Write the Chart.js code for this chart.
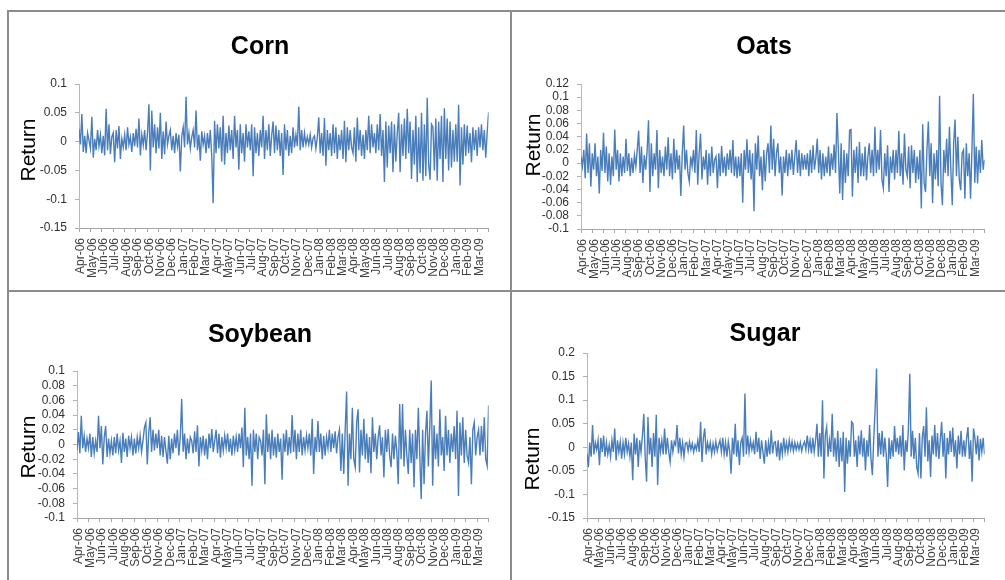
<!DOCTYPE html>
<html>
<head>
<meta charset="utf-8">
<script src="https://cdn.jsdelivr.net/npm/chart.js@4.4.1/dist/chart.umd.min.js"></script>
<style>
  body { margin: 0; width: 1005px; height: 580px; overflow: hidden; background: #fff; position: relative; font-family: "Liberation Sans", Arial, sans-serif; }
  .line { position: absolute; background: #8c8c8c; }
  canvas { position: absolute; }
  .title { position: absolute; width: 240px; text-align: center; font-weight: bold; font-size: 25px; line-height: 25px; color: #000; }
  .ytitle { position: absolute; width: 100px; height: 24px; line-height: 24px; text-align: center; font-size: 21px; color: #000; transform: rotate(-90deg); }
</style>
</head>
<body>
<div class="line" style="left:7px;top:10px;width:998px;height:2px"></div>
<div class="line" style="left:7px;top:290px;width:998px;height:2px"></div>
<div class="line" style="left:7px;top:10px;width:2px;height:570px"></div>
<div class="line" style="left:510px;top:10px;width:2px;height:570px"></div>

<canvas id="corn" width="500" height="278" style="left:9px;top:12px"></canvas>
<canvas id="oats" width="493" height="278" style="left:512px;top:12px"></canvas>
<canvas id="soybean" width="500" height="288" style="left:9px;top:292px"></canvas>
<canvas id="sugar" width="493" height="288" style="left:512px;top:292px"></canvas>

<div class="title" style="left:140px;top:33px">Corn</div>
<div class="title" style="left:644px;top:33px">Oats</div>
<div class="title" style="left:140px;top:321px">Soybean</div>
<div class="title" style="left:645px;top:320px">Sugar</div>

<div class="ytitle" style="left:-22px;top:138px">Return</div>
<div class="ytitle" style="left:483px;top:133px">Return</div>
<div class="ytitle" style="left:-22px;top:435px">Return</div>
<div class="ytitle" style="left:482px;top:447px">Return</div>

<script>
// month tick labels along the x axis
const months = ['Apr-06','May-06','Jun-06','Jul-06','Aug-06','Sep-06','Oct-06','Nov-06','Dec-06','Jan-07','Feb-07','Mar-07',
  'Apr-07','May-07','Jun-07','Jul-07','Aug-07','Sep-07','Oct-07','Nov-07','Dec-07','Jan-08','Feb-08','Mar-08',
  'Apr-08','May-08','Jun-08','Jul-08','Aug-08','Sep-08','Oct-08','Nov-08','Dec-08','Jan-09','Feb-09','Mar-09'];

// returns (8 samples a month)
const cornReturns = [
  .022,-.005,.048,-.018,.01,-.02,.015,.002, -.012,.043,-.028,.005,-.015,.02,-.008,.012,
  -.02,.01,-.024,.057,-.015,.03,-.022,.008, .015,-.036,.02,-.012,.027,-.03,.005,-.01,
  .012,-.015,.025,-.005,.008,-.018,.015,-.008, .022,-.01,.04,-.024,.012,-.006,.02,-.015,
  .015,.065,-.05,.054,-.01,.03,-.02,.025, -.012,.05,-.03,.018,-.022,.035,-.005,.01,
  .02,-.015,.01,-.02,.015,-.008,.012,-.052, .01,.025,-.01,.078,-.005,.015,-.012,.008,
  .02,-.01,.054,-.015,.012,-.033,.018,-.005, .01,-.02,.015,-.012,.02,-.025,-.107,.036,
  -.02,.03,-.012,.025,-.035,.045,-.04,.015, -.02,.028,-.015,.02,-.03,.045,-.01,.02,
  -.049,.03,-.02,.015,-.035,.03,-.01,.018, -.015,.03,-.06,.025,-.02,.015,-.025,.02,
  -.01,.045,-.03,.02,-.015,.03,-.025,.01, .035,-.02,.028,-.015,.02,-.025,.015,-.058,
  .03,-.015,.02,-.025,.01,-.02,.025,-.01, .012,-.008,.061,-.015,.02,-.01,.015,-.005,
  .008,-.005,.012,-.01,.006,.01,-.012,.008, .042,-.02,.015,-.025,.041,-.042,.02,-.015,
  .015,-.025,.03,-.02,.025,-.03,.012,-.015, .02,-.03,.036,-.036,.025,-.015,.02,-.01,
  -.02,.025,-.035,.042,-.015,.02,-.025,.012, -.03,.02,-.015,.045,-.02,.03,-.01,.015,
  -.02,.03,-.015,.048,-.025,.02,-.07,.035, -.045,.028,-.02,.035,-.053,.03,-.035,.015,
  .05,-.053,.03,-.025,.04,-.03,.057,-.02, .035,-.065,.02,-.04,.045,-.07,.025,-.055,
  .05,-.068,.03,-.06,.076,-.04,-.066,.03, .025,-.05,.04,-.068,.035,-.03,.045,-.07,
  .058,-.03,.04,-.05,.035,-.045,.02,-.035, .03,-.035,.064,-.076,.025,-.04,.03,-.025,
  .028,-.02,.015,-.036,.025,-.015,.02,-.025, .025,-.01,.03,-.015,.02,-.028,.015,.051
];

const oatsReturns = [
  .01,-.005,.02,-.023,.045,-.015,.03,-.036, .015,-.01,.03,-.02,.01,-.046,.02,-.012,
  .046,-.015,.025,-.028,.015,-.033,.01,-.02, .051,-.01,.02,-.028,.015,-.02,.01,-.015,
  .037,-.012,.015,-.02,.008,-.015,.012,-.005, .02,.049,-.015,.025,-.03,.012,-.01,.018,
  .065,-.044,.03,-.02,.015,-.01,.05,-.038, .02,-.015,.01,-.02,.025,-.01,.039,-.02,
  .015,-.025,.037,-.015,.02,-.01,.012,-.05, .015,.057,-.01,.02,-.015,-.028,.01,-.005,
  .02,-.015,.05,-.033,.015,.045,-.025,.01, -.01,.02,-.033,.015,-.02,.025,-.015,.005,
  .01,-.038,.015,-.02,.026,-.015,.01,-.02, .015,-.01,.02,-.015,.035,-.02,.01,-.023,
  .01,-.02,.015,-.06,.02,-.01,.036,-.015, .02,-.025,.015,-.073,.03,-.01,.042,-.02,
  .01,-.041,.02,-.028,.015,.03,-.015,.057, -.01,.037,-.02,.015,.03,-.015,.01,-.049,
  .01,-.015,.02,-.02,.015,-.01,.02,-.018, .01,.035,-.015,.02,-.02,.015,-.01,.012,
  -.01,.015,-.02,.02,-.015,.027,-.01,.008, .037,-.015,.02,-.025,.015,-.02,.01,-.015,
  .025,-.02,.015,-.01,.028,-.015,.076,.02, -.046,.03,-.056,.02,-.03,.015,-.02,.05,
  .051,-.051,.02,-.015,.025,-.03,.032,-.02, .015,-.02,.025,-.026,.01,.03,-.015,.02,
  -.02,.055,-.015,.02,-.01,.05,-.025,-.038, .015,-.02,.027,-.044,.01,-.015,.02,-.025,
  .02,-.015,.049,-.02,.015,-.033,.045,-.01, -.02,.025,-.038,.027,-.015,.02,-.03,.01,
  -.025,.02,-.069,.059,-.03,-.044,.02,.063, -.02,.03,-.061,.015,-.025,.02,-.035,.102,
  -.03,-.064,.02,-.015,.037,-.02,.055,-.01, -.064,.03,.066,-.02,.04,-.025,-.041,.015,
  .02,-.054,.03,-.02,.015,-.054,.02,.105, -.03,.025,-.031,.02,-.015,.035,-.01,.005
];

const soybeanReturns = [
  -.008,.017,-.012,.039,-.005,.012,-.01,.008, -.005,.015,-.017,.01,-.012,.005,-.01,.039,
  -.005,.025,-.027,.01,.025,-.017,.008,-.012, .005,-.015,.01,-.012,.015,-.008,.005,-.025,
  .016,-.01,.008,-.017,.012,-.005,.01,-.015, .008,-.012,.01,-.005,.012,-.01,.005,.023,
  .03,-.027,.015,.037,-.01,.02,-.008,.015, -.005,.02,-.015,.012,-.017,.01,-.008,-.026,
  .012,-.02,.008,-.012,.015,-.005,.02,-.015, .01,.062,-.01,.015,-.02,.008,-.012,.01,
  .005,-.012,.018,-.01,.026,-.03,.01,-.008, .012,-.015,.008,-.02,.015,-.005,.021,-.01,
  .005,.02,-.012,.015,-.018,.01,-.008,.012, -.005,.015,-.01,.008,-.015,.012,-.008,.01,
  -.01,.015,-.005,.023,-.031,.05,-.015,.01, -.02,.015,-.056,.02,-.01,.015,-.02,.01,
  .005,-.015,.02,-.054,.041,-.01,.015,-.02, .02,-.015,.01,-.018,.015,-.01,.008,-.048,
  .015,-.01,.02,-.015,.01,-.012,.04,-.01, .02,-.02,.015,-.01,.02,-.015,.01,-.008,
  .012,-.005,.015,-.015,.035,-.04,.01,-.01, .032,-.01,.015,-.02,.012,-.015,.01,-.005,
  .02,-.01,.015,-.005,.018,-.012,.01,.02, -.036,.015,-.04,.02,.072,-.056,.015,-.02,
  .05,-.02,-.031,.03,.048,-.038,.02,-.015, .035,-.02,.015,-.025,.01,-.039,.037,-.01,
  .015,-.02,.01,.026,-.015,.01,-.045,.02, -.01,.021,-.015,-.031,.015,-.02,.012,-.01,
  -.054,.055,-.02,.055,-.03,.02,-.015,-.04, .02,-.025,.015,-.058,.02,-.02,.05,-.015,
  -.074,.02,-.054,.015,.046,-.03,.025,.087, -.056,.026,-.02,.015,-.03,.048,-.015,.01,
  -.036,.039,-.015,.02,-.025,.015,-.01,.025, -.02,.046,-.07,.03,-.015,.037,-.025,.02,
  -.015,-.025,.01,-.054,.02,.03,-.015,.01, .02,-.015,.025,-.01,.037,-.02,-.029,.053
];

const sugarReturns = [
  -.013,-.042,.01,-.02,.047,-.015,.01,-.005, .015,-.038,.02,-.01,.025,-.02,.01,-.015,
  .005,-.02,.015,-.01,.04,-.028,.015,-.01, .012,-.024,.01,-.015,.02,-.01,.008,-.02,
  .01,-.07,.029,-.015,.02,-.042,.015,-.01, .025,.071,-.02,-.073,.064,-.015,.02,-.042,
  .03,-.02,.069,-.08,.02,-.01,.015,-.015, .04,-.015,.02,-.01,-.031,.015,-.01,.012,
  .005,.047,-.013,.02,-.015,.01,-.02,.008, .01,-.008,.012,-.005,.008,-.01,.005,-.005,
  .015,-.01,.054,-.031,.02,.04,-.015,.01, -.005,.01,-.015,.008,-.01,.012,-.008,.005,
  .015,-.01,.02,-.015,.01,-.02,.012,-.008, -.056,.02,-.015,.05,-.02,.015,-.038,.01,
  .02,-.02,.114,-.015,.025,-.01,.015,-.005, .01,-.015,.033,-.01,.02,-.025,.015,-.01,
  -.035,.015,-.02,.01,-.015,.036,-.013,.01, .012,-.02,.015,-.028,.01,-.015,.02,-.01,
  .01,-.01,.015,-.005,.012,-.008,.01,-.005, .008,-.005,.01,-.008,.005,.012,-.005,.025,
  -.005,.015,-.013,.02,-.01,.015,.05,-.02, .03,-.02,.1,-.066,.025,.043,-.02,.015,
  -.01,.071,-.02,.02,-.03,.035,-.042,.02, -.03,.033,-.095,.02,-.035,.015,-.02,.054,
  .05,-.02,.015,-.042,.025,-.015,.036,-.02, .02,-.049,.015,-.02,.047,-.025,-.059,.02,
  .082,.167,-.02,.03,-.015,.035,-.02,.02, -.015,-.084,.02,-.025,.015,-.02,.045,-.01,
  .02,-.015,.025,-.02,.047,-.049,.015,-.01, .04,.156,-.02,.035,-.025,.02,-.042,-.056,
  .03,-.066,.02,.045,-.02,.085,-.03,.015, -.063,.025,-.015,.047,-.02,.03,-.025,.015,
  .054,-.02,.03,-.066,.02,-.015,.035,-.01, .042,-.02,.015,-.045,.025,-.015,.035,-.02,
  .015,-.02,.02,.043,-.025,.015,-.073,.04, .02,-.015,.025,-.028,.018,-.01,.02,-.015
];

const LINE_BLUE = '#4a7ebb';

function fmtTick(v) {
  return String(Math.round(v * 100) / 100);
}

// geo: y axis width, top padding, right padding, x axis height (all in canvas px)
function makeReturnChart(id, values, yMin, yMax, yStep, geo) {
  const n = values.length;
  const points = values.map((v, i) => ({ x: i * months.length / (n - 1), y: v }));

  return new Chart(document.getElementById(id), {
    type: 'line',
    data: {
      datasets: [{
        data: points,
        borderColor: LINE_BLUE,
        borderWidth: 1.4,
        pointRadius: 0,
        tension: 0,
        fill: false,
      }]
    },
    options: {
      responsive: false,
      animation: false,
      devicePixelRatio: 1,
      parsing: false,
      layout: { padding: { left: 0, top: geo.top, right: geo.right, bottom: 0 } },
      plugins: {
        legend: { display: false },
        tooltip: { enabled: false },
        title: { display: false },
      },
      scales: {
        x: {
          type: 'linear',
          min: 0,
          max: months.length,
          afterFit: (s) => { s.height = geo.xh; },
          ticks: {
            stepSize: 1,
            autoSkip: false,
            maxRotation: 90,
            minRotation: 90,
            padding: 6,
            labelOffset: 2,
            color: '#404040',
            font: { family: '"Liberation Sans", Arial, sans-serif', size: 12 },
            callback: (v) => months[v] ?? '',
          },
          grid: { drawOnChartArea: false, drawTicks: true, tickLength: 4, color: '#a6a6a6' },
          border: { display: true, color: '#a6a6a6', width: 1 },
        },
        y: {
          min: yMin,
          max: yMax,
          afterFit: (s) => { s.width = geo.yw; },
          ticks: {
            stepSize: yStep,
            autoSkip: false,
            padding: 8,
            color: '#303030',
            font: { family: '"Liberation Sans", Arial, sans-serif', size: 12 },
            callback: (v) => fmtTick(v),
          },
          grid: { drawOnChartArea: false, drawTicks: true, tickLength: 4, color: '#b0b0b0' },
          border: { display: true, color: '#b8b8b8', width: 1 },
        },
      },
    },
  });
}

makeReturnChart('corn', cornReturns, -0.15, 0.1, 0.05, { yw: 70, top: 72, right: 10, xh: 62 });
makeReturnChart('oats', oatsReturns, -0.1, 0.12, 0.02, { yw: 69, top: 72, right: 1, xh: 61 });
makeReturnChart('soybean', soybeanReturns, -0.1, 0.1, 0.02, { yw: 68, top: 79, right: 12, xh: 62 });
makeReturnChart('sugar', sugarReturns, -0.15, 0.2, 0.05, { yw: 75, top: 61, right: 2, xh: 62 });
</script>
</body>
</html>
